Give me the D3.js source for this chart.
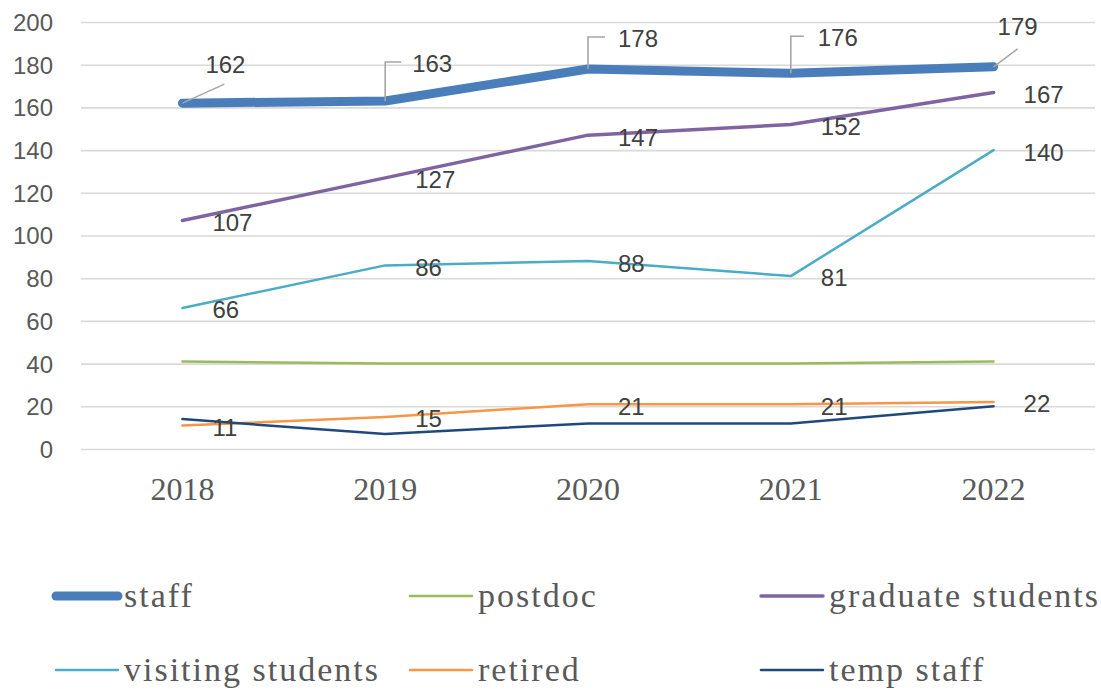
<!DOCTYPE html>
<html>
<head>
<meta charset="utf-8">
<script src="https://cdn.jsdelivr.net/npm/d3@7/dist/d3.min.js"></script>
<style>
  html, body { margin: 0; padding: 0; background: #fff; }
  svg { display: block; }
</style>
</head>
<body>
<svg id="chart" width="1101" height="689"></svg>
<script>
// Headcount by category, 2018–2022
const years = ["2018", "2019", "2020", "2021", "2022"];
const staff = [162, 163, 178, 176, 179];
const postdoc = [41, 40, 40, 40, 41];
const graduateStudents = [107, 127, 147, 152, 167];
const visitingStudents = [66, 86, 88, 81, 140];
const retired = [11, 15, 21, 21, 22];
const tempStaff = [14, 7, 12, 12, 20];
const yTicks = [0, 20, 40, 60, 80, 100, 120, 140, 160, 180, 200];

const seriesList = [
  { name: "staff", values: staff, color: "#4a7ebb", width: 9, labelled: true, callout: true },
  { name: "postdoc", values: postdoc, color: "#9bbb59", width: 2.5, labelled: false },
  { name: "graduate students", values: graduateStudents, color: "#8064a2", width: 3.5, labelled: true },
  { name: "visiting students", values: visitingStudents, color: "#4bacc6", width: 2.5, labelled: true },
  { name: "retired", values: retired, color: "#f79646", width: 2.5, labelled: true },
  { name: "temp staff", values: tempStaff, color: "#1f497d", width: 2.5, labelled: false }
];

const svg = d3.select("#chart");
const plot = { left: 81, right: 1095, top: 22, bottom: 449 };

const x = d3.scaleBand().domain(years).range([plot.left, plot.right]).paddingInner(0).paddingOuter(0);
const cx = d => x(d) + x.bandwidth() / 2;
const y = d3.scaleLinear().domain([0, 200]).range([plot.bottom, plot.top]);

// Gridlines + y tick labels
const yAxis = d3.axisLeft(y).tickValues(yTicks).tickSize(-(plot.right - plot.left)).tickPadding(28);
const gy = svg.append("g").attr("transform", `translate(${plot.left},0)`).call(yAxis);
gy.select(".domain").remove();
gy.selectAll(".tick line").attr("stroke", "#d9d9d9").attr("stroke-width", 1.6);
gy.selectAll(".tick text")
  .attr("fill", "#595959")
  .attr("font-family", "'Liberation Sans', Arial, sans-serif")
  .attr("font-size", 24)
  .attr("dy", "0.35em");

// Category labels
const xAxis = d3.axisBottom(x).tickSize(0).tickPadding(0);
const gx = svg.append("g").attr("transform", `translate(0,${plot.bottom})`).call(xAxis);
gx.select(".domain").remove();
gx.selectAll(".tick text")
  .attr("fill", "#595959")
  .attr("font-family", "'Liberation Serif', 'Times New Roman', serif")
  .attr("font-size", 32)
  .attr("dy", null)
  .attr("y", 51);

// Series lines
const line = d3.line().x((d, i) => cx(years[i])).y(d => y(d));
svg.append("g").selectAll("path")
  .data(seriesList)
  .join("path")
  .attr("d", s => line(s.values))
  .attr("fill", "none")
  .attr("stroke", s => s.color)
  .attr("stroke-width", s => s.width)
  .attr("stroke-linejoin", "round")
  .attr("stroke-linecap", "round");

// Data labels
const labelFont = "'Liberation Sans', Arial, sans-serif";
const labelLayer = svg.append("g");

// Callout placement for the staff series (label centre and leader path, relative to the point)
const calloutLayout = [
  { dx: 43, dy: -39, leader: [[0, 0], [42, -19]] },
  { dx: 47, dy: -37, leader: [[0, 0], [0, -39], [16, -39]] },
  { dx: 50, dy: -30, leader: [[0, 0], [0, -32], [17, -32]] },
  { dx: 47, dy: -36, leader: [[0, 0], [0, -37], [13, -37]] },
  { dx: 24, dy: -40, leader: [[0, 0], [24, -18]] }
];

seriesList.filter(s => s.labelled).forEach(s => {
  s.values.forEach((v, i) => {
    const px = cx(years[i]);
    const py = y(v);
    if (s.callout) {
      const c = calloutLayout[i];
      labelLayer.append("path")
        .attr("d", d3.line()(c.leader.map(p => [px + p[0], py + p[1]])))
        .attr("fill", "none")
        .attr("stroke", "#a6a6a6")
        .attr("stroke-width", 1.6);
      labelLayer.append("text")
        .attr("x", px + c.dx)
        .attr("y", py + c.dy)
        .attr("dy", "0.35em")
        .attr("text-anchor", "middle")
        .attr("font-family", labelFont)
        .attr("font-size", 24)
        .attr("fill", "#404040")
        .text(v);
    } else {
      labelLayer.append("text")
        .attr("x", px + 30)
        .attr("y", py + 2)
        .attr("dy", "0.35em")
        .attr("text-anchor", "start")
        .attr("font-family", labelFont)
        .attr("font-size", 24)
        .attr("fill", "#404040")
        .text(v);
    }
  });
});

// Legend
const legendCols = [52, 406, 757];
const legendRows = [596, 670];
const legend = svg.append("g");
seriesList.forEach((s, i) => {
  const lx = legendCols[i % 3];
  const ly = legendRows[Math.floor(i / 3)];
  const g = legend.append("g").attr("transform", `translate(${lx},${ly})`);
  g.append("line")
    .attr("x1", 4).attr("x2", 66)
    .attr("y1", 0).attr("y2", 0)
    .attr("stroke", s.color)
    .attr("stroke-width", s.width)
    .attr("stroke-linecap", "round");
  g.append("text")
    .attr("x", 72)
    .attr("y", 11)
    .attr("font-family", "'Liberation Serif', 'Times New Roman', serif")
    .attr("font-size", 34)
    .attr("letter-spacing", 2)
    .attr("fill", "#595959")
    .text(s.name);
});
</script>
</body>
</html>
